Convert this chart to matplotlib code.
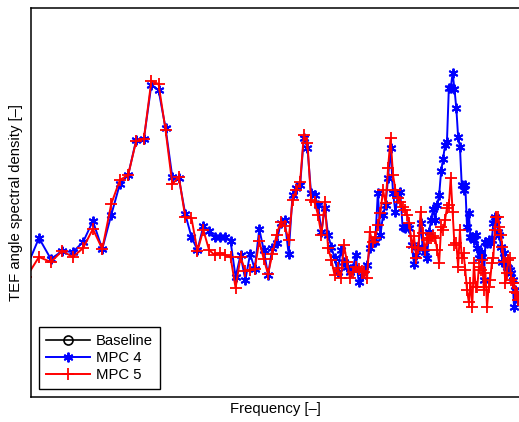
import matplotlib
matplotlib.use('Agg')
import matplotlib.pyplot as plt

plt.rcParams['font.family'] = ['Liberation Sans', 'DejaVu Sans']

# frequency bins (index), log axis
freq = [17, 18, 19, 20, 21, 22, 23, 24, 25, 26, 27, 28, 29, 30, 31, 32, 33, 34, 35, 36,
        37, 38, 39, 40, 41, 42, 43, 44, 45, 46, 47, 48, 49, 50, 51, 52, 53, 54, 55, 56,
        57, 58, 59, 60, 61, 62, 63, 64, 65, 66, 67, 68, 69, 70, 71, 72, 73, 74, 75, 76,
        77, 78, 79, 80, 81, 82, 83, 84, 85, 86, 87, 88, 89, 90, 91, 92, 93, 94, 95, 96,
        97, 98, 99, 100, 101, 102, 103, 104, 105, 106, 107, 108, 109, 110, 111, 112, 113, 114, 115, 116,
        117, 118, 119, 120, 121, 122, 123, 124, 125, 126, 127, 128, 129, 130, 131, 132, 133, 134, 135, 136,
        137, 138, 139, 140, 141, 142, 143, 144, 145, 146, 147, 148, 149, 150, 151, 152, 153, 154, 155, 156,
        157, 158, 159, 160]

# spectral density, arbitrary units
mpc4 = [132, 162, 141, 149, 148, 158, 179, 151, 185, 216, 225, 260, 261, 315, 310, 272, 223, 222, 186, 163,
        150, 174, 169, 163, 163, 163, 159, 123, 145, 120, 146, 131, 171, 150, 125, 152, 157, 177, 180, 146,
        205, 212, 215, 262, 252, 207, 205, 195, 168, 192, 165, 153, 142, 128, 150, 138, 133, 128, 132, 145,
        118, 124, 130, 135, 152, 158, 158, 207, 165, 185, 195, 222, 252, 207, 188, 205, 208, 173, 172, 174,
        172, 155, 136, 145, 153, 177, 152, 148, 142, 168, 180, 191, 180, 195, 205, 229, 241, 255, 258, 312,
        312, 327, 311, 292, 263, 253, 215, 210, 215, 173, 187, 163, 163, 160, 165, 152, 142, 148, 143, 120,
        158, 157, 160, 157, 160, 177, 183, 180, 168, 165, 153, 138, 147, 138, 133, 132, 130, 127, 120, 93,
        110, 105, 100, 100]
mpc5 = [123, 143, 138, 149, 143, 152, 171, 151, 196, 220, 225, 259, 261, 319, 316, 270, 216, 223, 183, 182,
        149, 170, 150, 145, 147, 145, 143, 112, 143, 129, 130, 131, 159, 141, 126, 146, 165, 178, 174, 160,
        200, 210, 218, 265, 257, 200, 198, 185, 165, 198, 152, 140, 125, 132, 122, 155, 138, 122, 128, 133,
        131, 129, 128, 122, 168, 158, 162, 175, 187, 210, 197, 232, 262, 225, 210, 202, 198, 193, 190, 185,
        177, 153, 164, 142, 152, 188, 167, 150, 160, 162, 162, 164, 162, 150, 137, 173, 170, 180, 192, 195,
        222, 188, 155, 157, 133, 170, 142, 147, 130, 110, 98, 117, 93, 137, 113, 113, 133, 130, 140, 110,
        127, 93, 113, 120, 137, 142, 170, 183, 183, 173, 165, 153, 138, 117, 127, 140, 142, 120, 117, 117,
        108, 107, 100, 102]
baseline = []

fig = plt.figure(figsize=(5.19, 4.22), dpi=100)
ax = fig.add_axes([31 / 519, (422 - 396.5) / 422, 489 / 519, 388.5 / 422])

star = (6, 2, 0)
ax.plot(baseline, baseline, color='k', marker='o', mfc='none', lw=1.2, ms=6.5, mew=1.2, label='Baseline')
ax.plot(freq, mpc4, color=(0, 0, 1), marker=star, ms=7, mew=1.4, lw=1.4, label='MPC 4')
ax.plot(freq, mpc5, color=(1, 0, 0), marker='+', ms=9, mew=1.3, lw=1.4, label='MPC 5')

ax.set_xscale('log')
ax.set_xlim(17.36, 160.3)
ax.set_ylim(3.5, 392)
ax.set_xticks([])
ax.set_yticks([])
ax.xaxis.set_minor_locator(matplotlib.ticker.NullLocator())
for s in ax.spines.values():
    s.set_linewidth(1.1)
ax.spines['right'].set_visible(False)

ax.set_xlabel('Frequency [\u2013]', fontsize=10.7, labelpad=4)
ax.set_ylabel('TEF angle spectral density [\u2013]', fontsize=10.7, labelpad=6)

leg = ax.legend(loc='lower left', bbox_to_anchor=(0.0164, 0.0193), borderaxespad=0,
                fontsize=10.7, handlelength=3.0, handletextpad=0.4, labelspacing=0.22,
                borderpad=0.45, fancybox=False, framealpha=1)
leg.get_frame().set_edgecolor('k')
leg.get_frame().set_linewidth(1.0)

fig.savefig('out.png', dpi=100)
